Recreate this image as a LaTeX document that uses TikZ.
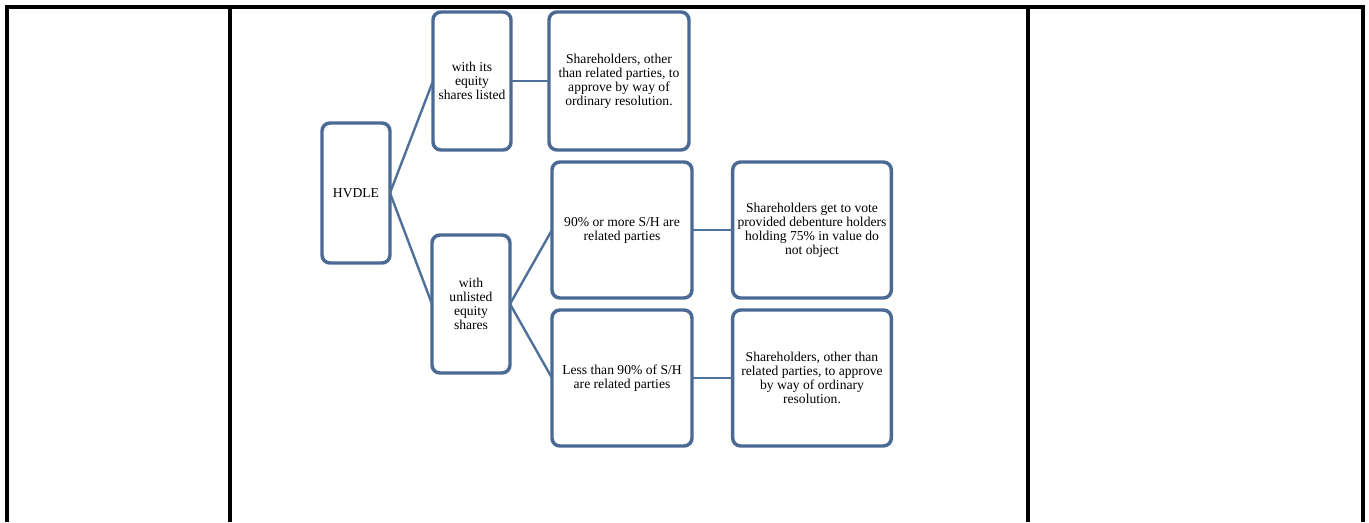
\documentclass[tikz,border=0pt]{standalone}
\usepackage{fontspec}
\setmainfont{Liberation Serif}
\usetikzlibrary{positioning}
\definecolor{boxblue}{HTML}{4A6A94}
\definecolor{linkblue}{HTML}{4F7199}

\begin{document}
\begin{tikzpicture}[x=0.75pt,y=-0.75pt,
        every node/.style={outer sep=0pt},
        flowbox/.style={draw=boxblue,line width=2.6pt,rounded corners=6pt,fill=white,
        align=center,inner sep=2pt,font=\fontsize{10.2}{10.6}\selectfont},
        link/.style={draw=linkblue,line width=1.8pt},
        rule/.style={line width=2.6pt}]
        \useasboundingbox (0,0) rectangle (1369,522);

        % Table rules
        \draw[rule] (7,522) -- (7,7) -- (1363,7) -- (1363,522);
        \draw[rule] (230,7) -- (230,522);
        \draw[rule] (1028,7) -- (1028,522);

        % Root
        \node[flowbox,minimum width=51pt,minimum height=105pt] (hvdle) at (356,193) {HVDLE};
        % Second column
        \node[flowbox,minimum width=58.5pt,minimum height=103.5pt] (listed) at (472,81)
            {with its\\equity\\shares listed};
        \node[flowbox,minimum width=58.5pt,minimum height=103.5pt] (unlisted) at (471,304)
            {with\\unlisted\\equity\\shares};
        % Third column
        \node[flowbox,minimum width=105pt,minimum height=103.5pt,right=28.5pt of listed] (ordlisted)
            {Shareholders, other\\than related parties, to\\approve by way of\\ordinary resolution.};
        \node[flowbox,minimum width=105pt,minimum height=102pt] (ninety) at (622,230)
            {90\% or more S/H are\\related parties};
        \node[flowbox,minimum width=105pt,minimum height=102pt] (lessninety) at (622,378)
            {Less than 90\% of S/H\\are related parties};
        % Fourth column
        \node[flowbox,minimum width=119pt,minimum height=102pt,right=30.5pt of ninety] (vote)
            {Shareholders get to vote\\provided debenture holders\\holding 75\% in value do\\not object};
        \node[flowbox,minimum width=119pt,minimum height=102pt,right=30.5pt of lessninety] (ordunlisted)
            {Shareholders, other than\\related parties, to approve\\by way of ordinary\\resolution.};

        \draw[link] (hvdle.east) -- (listed.west);
        \draw[link] (hvdle.east) -- (unlisted.west);
        \draw[link] (listed.east) -- (ordlisted.west);
        \draw[link] (unlisted.east) -- (ninety.west);
        \draw[link] (unlisted.east) -- (lessninety.west);
        \draw[link] (ninety.east) -- (vote.west);
        \draw[link] (lessninety.east) -- (ordunlisted.west);

    \end{tikzpicture}
\end{document}
